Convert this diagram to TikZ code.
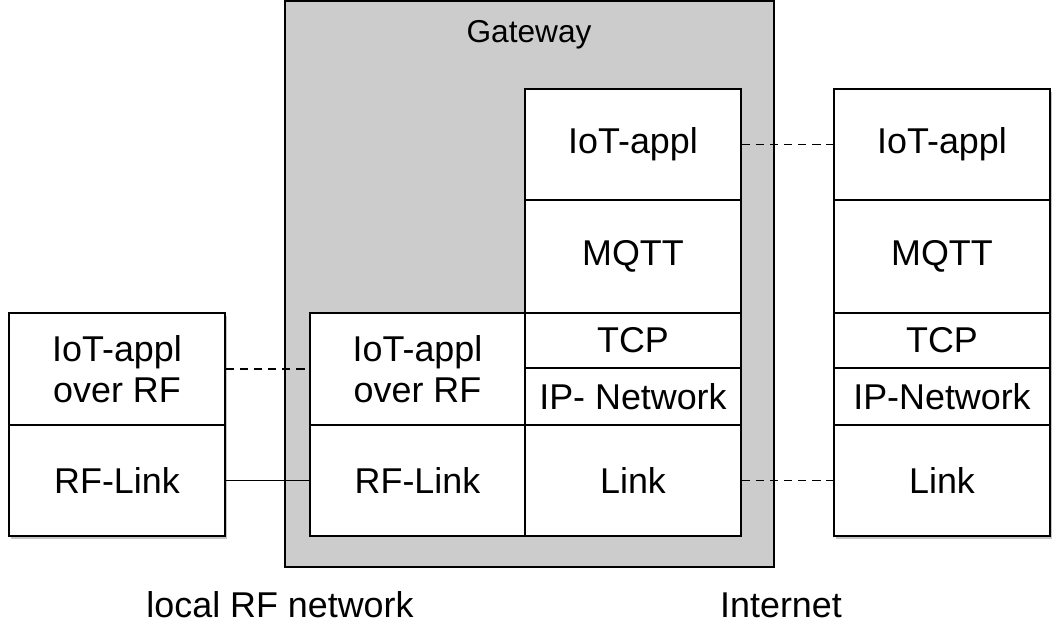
\documentclass[tikz,border=0pt]{standalone}
\usepackage{fontspec}
\setmainfont{Liberation Sans}
\usetikzlibrary{shadows}
\newcommand{\unitpx}{0.025cm}
\tikzset{
  layer/.style={draw, rectangle, fill=white, line width=1.1pt, inner sep=0pt,
    minimum width=216*\unitpx, align=center, font=\fontsize{25.5}{29}\selectfont},
  shadowed/.style={drop shadow={shadow xshift=1.3pt, shadow yshift=-1.8pt, opacity=0.45}},
  dashlink/.style={draw, line width=1pt, dash pattern=on 6pt off 4pt},
  solidlink/.style={draw, line width=1pt}
}
\begin{document}
\begin{tikzpicture}[x=0.025cm, y=0.025cm]
\useasboundingbox (0,0) rectangle (1058,626);

\node[draw, rectangle, fill=black!20, line width=1.1pt, minimum width=489*\unitpx, minimum height=566*\unitpx] (gw) at (529.5,342) {};
\node[font=\fontsize{22.5}{26}\selectfont] (gwlabel) at (529,591) {Gateway};

\node[layer, shadowed, minimum height=112*\unitpx] (a) at (117,257) {IoT-appl\\over RF};
\node[layer, shadowed, minimum height=111*\unitpx] (b) at (117,145.5) {RF-Link};

\node[layer, minimum height=112*\unitpx, minimum width=215*\unitpx] (c) at (417.5,257) {IoT-appl\\over RF};
\node[layer, minimum height=111*\unitpx, minimum width=215*\unitpx] (d) at (417.5,145.5) {RF-Link};

\node[layer, minimum height=111*\unitpx] (e) at (633,481.5) {IoT-appl};
\node[layer, minimum height=113*\unitpx] (f) at (633,369.5) {MQTT};
\node[layer, minimum height=55*\unitpx] (g) at (633,285.5) {TCP};
\node[layer, minimum height=57*\unitpx] (h) at (633,229.5) {IP- Network};
\node[layer, minimum height=111*\unitpx] (i) at (633,145.5) {Link};

\node[layer, shadowed, minimum height=111*\unitpx] (j) at (942,481.5) {IoT-appl};
\node[layer, shadowed, minimum height=113*\unitpx] (k) at (942,369.5) {MQTT};
\node[layer, shadowed, minimum height=55*\unitpx] (l) at (942,285.5) {TCP};
\node[layer, shadowed, minimum height=57*\unitpx] (m) at (942,229.5) {IP-Network};
\node[layer, shadowed, minimum height=111*\unitpx] (n) at (942,145.5) {Link};

\path[dashlink] (a) -- (c);
\path[solidlink] (b) -- (d);
\path[dashlink] (e) -- (j);
\path[dashlink] (i) -- (n);

\node[font=\fontsize{25.5}{29}\selectfont] (rf) at (280,21) {local RF network};
\node[font=\fontsize{25.5}{29}\selectfont] (inet) at (781,21) {Internet};
\end{tikzpicture}
\end{document}
